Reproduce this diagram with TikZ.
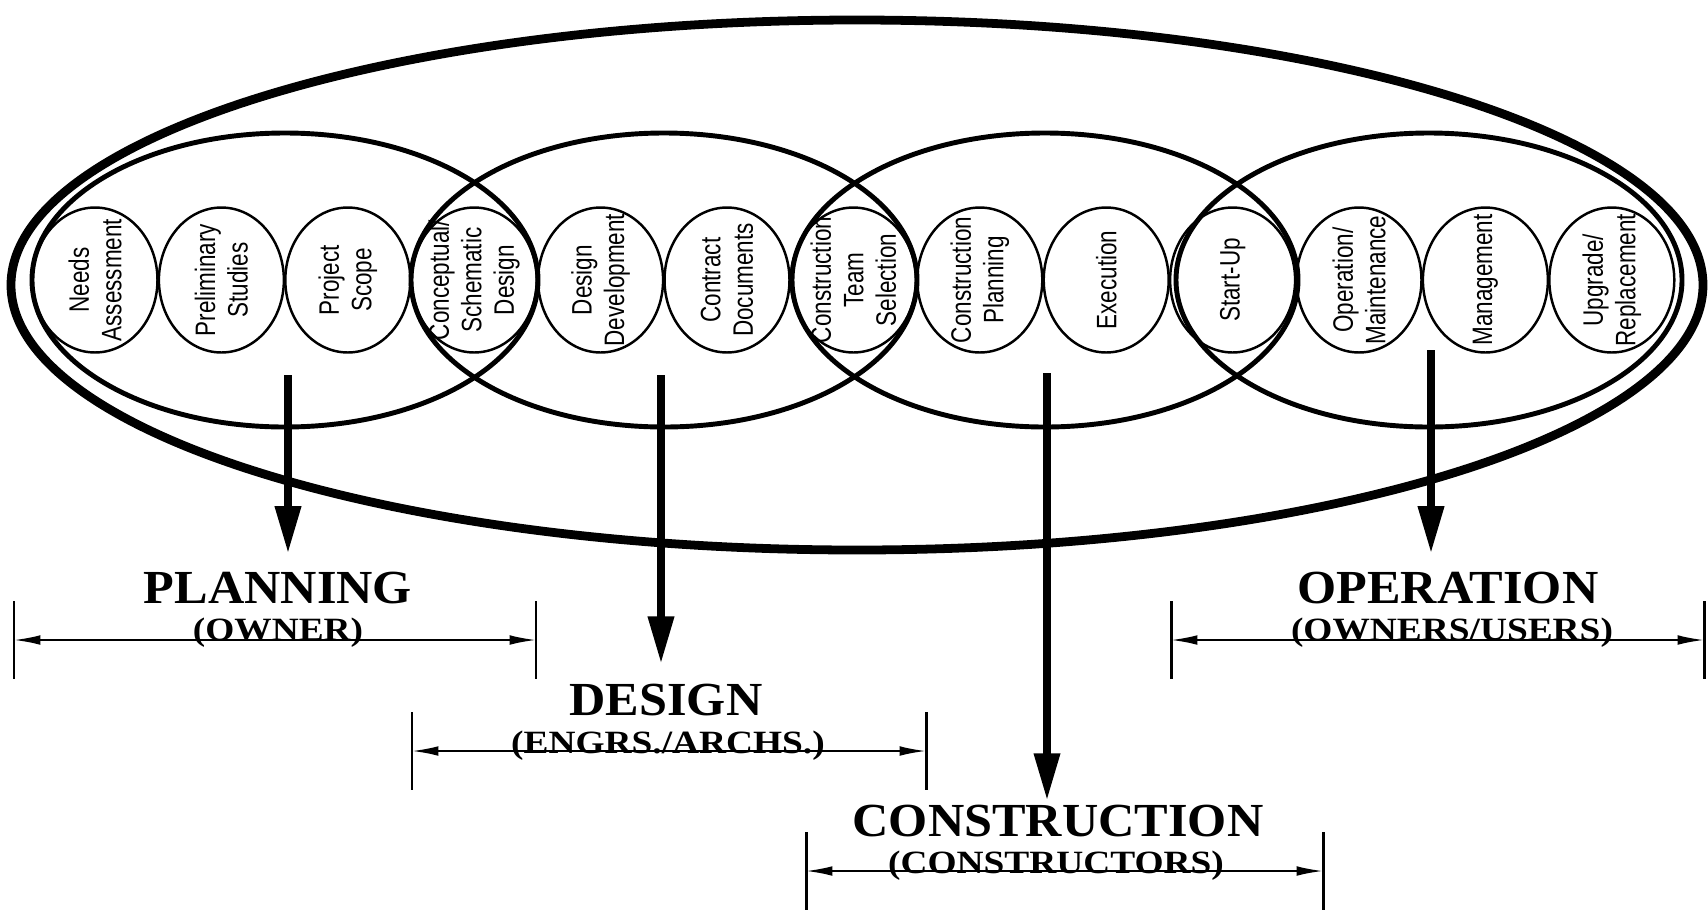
\documentclass[tikz,border=0pt]{standalone}
\usepackage{fontspec}
\setmainfont{Liberation Serif}
\newfontfamily\stagefont[FakeStretch=0.8]{Liberation Sans}
\newfontfamily\titlefont[FakeStretch=1.06]{Liberation Serif}
\newfontfamily\whofont[FakeStretch=1.15]{Liberation Serif}
\usetikzlibrary{arrows.meta,shapes.geometric}

\begin{document}
\begin{tikzpicture}
[x=0.02cm,y=-0.02cm,
stage/.style={ellipse,draw,line width=1.4pt,minimum width=2.5cm,minimum height=2.9cm,inner sep=0pt},
lbl/.style={rotate=90,align=center,inner sep=0pt,font=\stagefont\fontsize{16}{18.5}\selectfont},
phase/.style={line width=2.8pt},
flow/.style={line width=4.5pt,-{Triangle[length=27pt,width=14pt]}},
title/.style={anchor=base,inner sep=1pt,font=\titlefont\bfseries\fontsize{27}{29}\selectfont},
who/.style={anchor=base,inner sep=0pt,font=\whofont\bfseries\fontsize{18.5}{20}\selectfont},
span/.style={line width=1.1pt,{Latex[length=15pt,width=5.5pt]}-{Latex[length=15pt,width=5.5pt]}},
bar/.style={line width=1.7pt}]
\useasboundingbox (0,0) rectangle (1708,917);

% whole project life
\draw[line width=5pt] (857,285) ellipse [x radius=846,y radius=265];
% the four phases
\foreach \cx in {285,664,1045,1429}
  \draw[phase] (\cx,280) ellipse [x radius=253,y radius=147];
% the stages
\foreach [count=\i] \t in {{Needs\\Assessment},{Preliminary\\Studies},{Project\\Scope},
  {Conceptual/\\Schematic\\Design},{Design\\Development},{Contract\\Documents},
  {Construction\\Team\\Selection},{Construction\\Planning},{Execution},{Start-Up},
  {Operation/\\Maintenance},{Management},{Upgrade/\\Replacement}}
  \node[stage,label={[lbl]center:\t}] (s\i) at ({95+126.4*(\i-1)},280) {};

% phase names and who does them
\node[title] (plan) at (278,603) {PLANNING};
\node[who] (owner) at (278,640) {(OWNER)};
\node[title] (des) at (666,715) {DESIGN};
\node[who] (eng) at (668,753) {(ENGRS./ARCHS.)};
\node[title] (con) at (1058,836) {CONSTRUCTION};
\node[who] (cons) at (1056,873) {(CONSTRUCTORS)};
\node[title] (op) at (1448,603) {OPERATION};
\node[who] (users) at (1452,640) {(OWNERS/USERS)};

\coordinate (a1) at (288,375);
\coordinate (a2) at (661,375);
\coordinate (a3) at (1047,373);
\coordinate (a4) at (1431,350);
\draw[flow,shorten >=9pt] (a1) -- (a1 |- plan.north);
\draw[flow,shorten >=10pt] (a2) -- (a2 |- des.north);
\draw[flow,shorten >=1pt] (a3) -- (a3 |- con.north);
\draw[flow,shorten >=9pt] (a4) -- (a4 |- op.north);

% spans
\coordinate (pl) at (14,640);   \coordinate (pr) at (536,640);
\coordinate (dl) at (412,751);  \coordinate (dr) at (926,751);
\coordinate (cl) at (806,871);  \coordinate (cr) at (1323,871);
\coordinate (ol) at (1171,640); \coordinate (or) at (1704,640);
\foreach \p in {pl,pr,dl,dr,cl,cr,ol,or}
  \draw[bar] (\p) ++(0,-39) -- ++(0,78);
\draw[span] (pl) -- (pr);
\draw[span] (dl) -- (dr);
\draw[span] (cl) -- (cr);
\draw[span] (ol) -- (or);
\end{tikzpicture}
\end{document}
